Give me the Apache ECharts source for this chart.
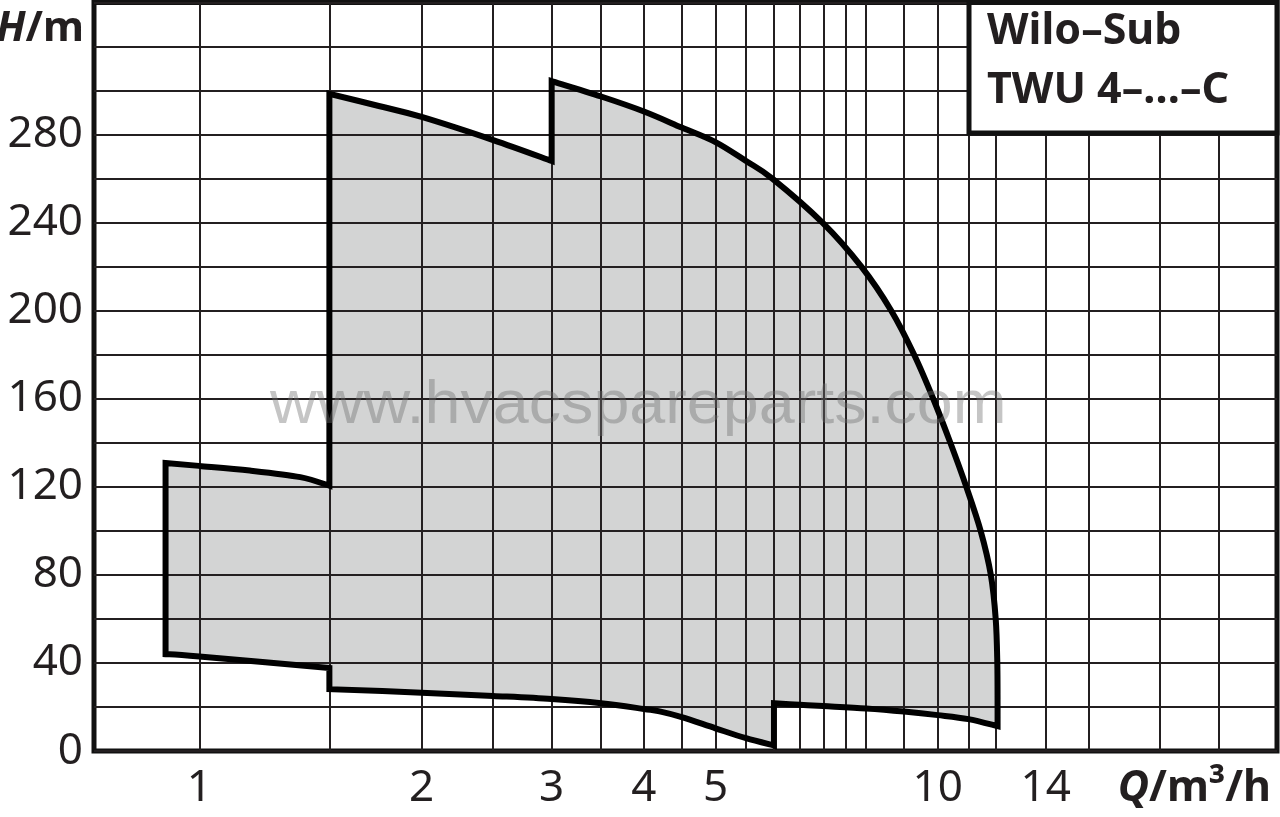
<!DOCTYPE html>
<html>
<head>
<meta charset="utf-8">
<script src="https://cdn.jsdelivr.net/npm/echarts@6/dist/echarts.min.js"></script>
<style>
  html, body { margin: 0; padding: 0; background: #fff; }
  #chart { width: 1280px; height: 817px; }
</style>
</head>
<body>
<div id="chart"></div>
<script>
// ---- Data (Q in m³/h, H in m) ----
const Q_MIN = 0.72;
const Q_MAX = 28.8;
const H_MAX = 340;
const H_STEP = 20;
const Q_GRID = [1, 1.5, 2, 2.5, 3, 3.5, 4, 4.5, 5, 5.5, 6, 6.5, 7, 7.5, 8, 9, 10, 11, 12, 14, 16, 20, 24];
const Q_LABELS = [1, 2, 3, 4, 5, 10, 14];
const H_LABELS = [0, 40, 80, 120, 160, 200, 240, 280];

// Boundary of the operating field, clockwise; each edge is a smooth curve,
// edges are joined by straight (vertical) steps
const edgeLeftTop = [[0.9, 130.8], [1.0, 129.5], [1.17, 127.4], [1.37, 124.4], [1.5, 120.5]];
const edgeMidTop = [[1.5, 298.5], [1.75, 293], [2.0, 288], [2.5, 277.5], [3.0, 268]];
const edgeRightTop = [[3.0, 304.3], [3.5, 297.3], [4.0, 290.5], [4.5, 283.2], [5.0, 276.6],
  [5.5, 268], [5.97, 260], [6.98, 240], [7.88, 220], [8.65, 200], [9.29, 180], [9.86, 160],
  [10.4, 140], [10.93, 120], [11.43, 100], [11.8, 80], [11.98, 60], [12.04, 40], [12.05, 20], [12.05, 11.3]];
const edgeRightBottom = [[12.05, 11.3], [11.0, 14.5], [10.0, 16.3], [9.0, 17.9], [8.0, 19.3], [7.0, 20.4], [6.5, 21.0], [6.0, 21.7]];
const edgeMidBottom = [[6.0, 2.5], [5.5, 5.8], [5.0, 10.3], [4.5, 15.4], [4.2, 18.0], [4.0, 19.1],
  [3.5, 21.7], [3.0, 23.6], [2.5, 25.0], [2.0, 26.5], [1.5, 28.1]];
const edgeLeftBottom = [[1.5, 37.7], [1.0, 42.9], [0.9, 44]];

const TITLE_LINES = ['Wilo–Sub', 'TWU 4–…–C'];
const WATERMARK = 'www.hvacspareparts.com';

// ---- Build ----
const lg = v => Math.log10(v);
const EDGES = [edgeLeftTop, edgeMidTop, edgeRightTop, edgeRightBottom, edgeMidBottom, edgeLeftBottom];
const anchorData = [[lg(EDGES[0][0][0]), EDGES[0][0][1]]];

const GRID_COLOR = '#231f20';
const TEXT_COLOR = '#231f20';
const FONT = '"Noto Sans", "Open Sans", sans-serif';

function fieldPath(api) {
  let d = '';
  EDGES.forEach((edge, ei) => {
    const P = edge.map(p => api.coord([lg(p[0]), p[1]]));
    d += (ei === 0 ? 'M' : 'L') + P[0][0] + ' ' + P[0][1];
    for (let i = 0; i < P.length - 1; i++) {
      const p0 = P[i - 1] || P[i], p1 = P[i], p2 = P[i + 1], p3 = P[i + 2] || P[i + 1];
      const c1x = p1[0] + (p2[0] - p0[0]) / 6, c1y = p1[1] + (p2[1] - p0[1]) / 6;
      const c2x = p2[0] - (p3[0] - p1[0]) / 6, c2y = p2[1] - (p3[1] - p1[1]) / 6;
      d += 'C' + c1x + ' ' + c1y + ' ' + c2x + ' ' + c2y + ' ' + p2[0] + ' ' + p2[1];
    }
  });
  return d + 'Z';
}

const chart = echarts.init(document.getElementById('chart'), null, { renderer: 'canvas' });

chart.setOption({
  backgroundColor: '#ffffff',
  animation: false,
  grid: {
    left: 94, right: 3, top: 2.5, bottom: 66,
    show: true, borderColor: '#111', borderWidth: 5, backgroundColor: 'transparent'
  },
  xAxis: {
    type: 'value',
    min: lg(Q_MIN), max: lg(Q_MAX),
    axisLine: { show: false },
    axisTick: { show: false, customValues: Q_GRID.map(lg) },
    splitLine: { show: true, lineStyle: { color: GRID_COLOR, width: 2 } },
    axisLabel: {
      customValues: Q_LABELS.map(lg),
      formatter: v => String(Math.round(Math.pow(10, v))),
      color: TEXT_COLOR, fontFamily: FONT, fontSize: 44, margin: 15
    }
  },
  yAxis: {
    type: 'value',
    min: 0, max: H_MAX, interval: H_STEP,
    axisLine: { show: false },
    axisTick: { show: false },
    splitLine: { show: true, lineStyle: { color: GRID_COLOR, width: 2 } },
    axisLabel: {
      customValues: H_LABELS,
      color: TEXT_COLOR, fontFamily: FONT, fontSize: 44, margin: 11,
      padding: [7, 0, 0, 0]
    }
  },
  graphic: [
    {
      type: 'text', x: 84, y: 29, z: 20,
      style: {
        text: '{i|H}{b|/m}', align: 'right', verticalAlign: 'middle',
        rich: {
          i: { fontFamily: FONT, fontSize: 42, fontWeight: 'bold', fontStyle: 'italic', fill: TEXT_COLOR },
          b: { fontFamily: FONT, fontSize: 42, fontWeight: 'bold', fill: TEXT_COLOR }
        }
      }
    },
    {
      type: 'text', x: 1271, y: 789, z: 20,
      style: {
        text: '{i|Q}{b|/m³/h}', align: 'right', verticalAlign: 'middle',
        rich: {
          i: { fontFamily: FONT, fontSize: 43, fontWeight: 'bold', fontStyle: 'italic', fill: TEXT_COLOR },
          b: { fontFamily: FONT, fontSize: 43, fontWeight: 'bold', fill: TEXT_COLOR }
        }
      }
    },
    {
      type: 'rect', z: 30,
      shape: { x: 969, y: 2.5, width: 308, height: 130.5 },
      style: { fill: '#fff', stroke: '#111', lineWidth: 5 }
    },
    {
      type: 'text', x: 987, y: 32, z: 31,
      style: { text: TITLE_LINES[0], fontFamily: FONT, fontSize: 43, fontWeight: 'bold', fill: TEXT_COLOR, verticalAlign: 'middle' }
    },
    {
      type: 'text', x: 987, y: 91, z: 31,
      style: { text: TITLE_LINES[1], fontFamily: FONT, fontSize: 43, fontWeight: 'bold', fill: TEXT_COLOR, verticalAlign: 'middle' }
    },
    {
      type: 'text', x: 270, y: 406, z: 40, scaleX: 1.06,
      style: {
        text: WATERMARK, fontFamily: '"Liberation Sans", Arial, sans-serif', fontSize: 61,
        fill: 'rgba(110,110,110,0.40)', verticalAlign: 'middle'
      }
    }
  ],
  series: [
    {
      type: 'custom',
      z: -1,
      clip: false,
      data: anchorData,
      renderItem: function (params, api) {
        if (params.dataIndex !== 0) return null;
        return { type: 'path', shape: { pathData: fieldPath(api) }, style: { fill: '#d3d4d4', stroke: null } };
      }
    },
    {
      type: 'custom',
      z: 5,
      clip: false,
      data: anchorData,
      renderItem: function (params, api) {
        if (params.dataIndex !== 0) return null;
        return {
          type: 'path', shape: { pathData: fieldPath(api) },
          style: { fill: null, stroke: '#000', lineWidth: 6, lineJoin: 'miter', miterLimit: 10 }
        };
      }
    }
  ]
});
</script>
</body>
</html>
